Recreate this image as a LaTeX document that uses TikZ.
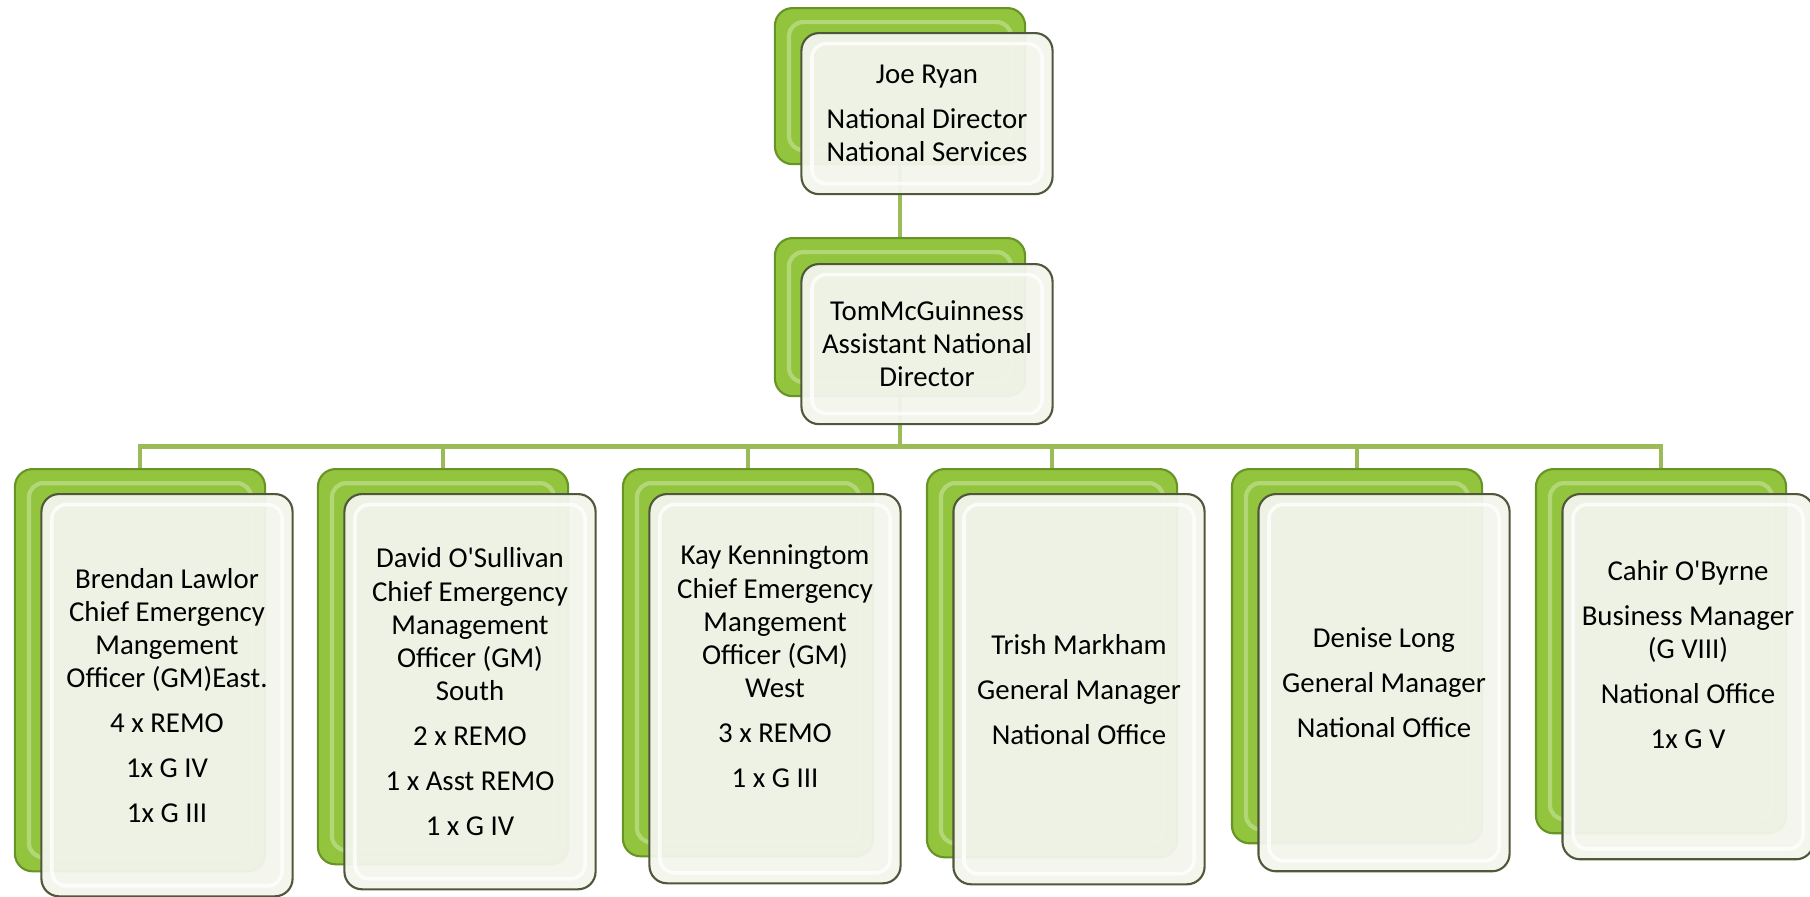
\documentclass[tikz,border=0pt]{standalone}
\usepackage{fontspec}
\setmainfont{Carlito}
\usetikzlibrary{backgrounds,positioning}
\definecolor{leaf}{RGB}{146,196,61}
\definecolor{leafdark}{RGB}{104,148,38}
\definecolor{paper}{RGB}{243,245,237}
\definecolor{rim}{RGB}{78,88,58}
\definecolor{twig}{RGB}{155,187,89}

\begin{document}
\begin{tikzpicture}[x=0.01cm,y=-0.01cm,
    back/.style={rounded corners=5pt,draw=leafdark,fill=leaf,line width=0.6pt,
                 minimum width=2.5cm,minimum height=#1,anchor=north,
                 path picture={\draw[leaf!70!white,line width=1.2pt,rounded corners=4pt]
                   ([shift={(4pt,-4pt)}]path picture bounding box.north west) rectangle
                   ([shift={(-4pt,4pt)}]path picture bounding box.south east);}},
    front/.style={rounded corners=5pt,draw=rim,fill=paper,fill opacity=0.95,
                  text opacity=1,line width=0.6pt,
                  minimum width=2.51cm,minimum height=#1,anchor=north,align=center,
                  font=\fontsize{8.2}{9.4}\selectfont,
                  path picture={\draw[white,draw opacity=0.8,line width=1pt,rounded corners=4pt]
                   ([shift={(3pt,-3pt)}]path picture bounding box.north west) rectangle
                   ([shift={(-3pt,3pt)}]path picture bounding box.south east);}},
    conn/.style={twig,line width=1.4pt}]
  \useasboundingbox (0,0) rectangle (1810,896);
  % director and assistant
  \node[back=1.56cm] (jrb) at (900,7) {};
  \node[front=1.61cm] (jr) at (927,32)
    {Joe Ryan\\[3.4pt]National Director\\National Services};
  \node[back=1.58cm] (tmb) at (900,237) {};
  \node[front=1.60cm] (tm) at (927,263)
    {TomMcGuinness\\Assistant National\\Director};
  % regional and national office staff
  \node[back=4.02cm] (blb) at (140,468) {};
  \node[front=4.02cm] (bl) at (167,493)
    {Brendan Lawlor\\Chief Emergency\\Mangement\\Officer (GM)East.\\[3.4pt]4 x REMO\\[3.4pt]1x G IV\\[3.4pt]1x G III};
  \node[back=3.95cm] (dob) at (443,468) {};
  \node[front=3.95cm] (do) at (470,493)
    {David O\textquotesingle Sullivan\\Chief Emergency\\Management\\Officer (GM)\\South\\[3.4pt]2 x REMO\\[3.4pt]1 x Asst REMO\\[3.4pt]1 x G IV};
  \node[back=3.87cm] (kkb) at (748,468) {};
  \node[front=3.89cm] (kk) at (775,493)
    {Kay Kenningtom\\Chief Emergency\\Mangement\\Officer (GM)\\West\\[3.4pt]3 x REMO\\[3.4pt]1 x G III\\[3.4pt]\mbox{}};
  \node[back=3.88cm] (tmkb) at (1052,468) {};
  \node[front=3.90cm] (tmk) at (1079,493)
    {Trish Markham\\[3.4pt]General Manager\\[3.4pt]National Office};
  \node[back=3.74cm] (dlb) at (1357,468) {};
  \node[front=3.77cm] (dl) at (1384,493)
    {Denise Long\\[3.4pt]General Manager\\[3.4pt]National Office};
  \node[back=3.64cm] (cob) at (1661,468) {};
  \node[front=3.65cm] (co) at (1688,493)
    {Cahir O\textquotesingle Byrne\\[3.4pt]Business Manager\\(G VIII)\\[3.4pt]National Office\\[3.4pt]1x G V\\[3.4pt]\mbox{}};
  \begin{pgfonlayer}{background}
    \draw[conn] (jrb) -- (tmb);
    \foreach \n in {blb,dob,kkb,tmkb,dlb,cob}
      \draw[conn] (tmb.south) -- ++(0,49) -| (\n.north);
  \end{pgfonlayer}
\end{tikzpicture}
\end{document}
